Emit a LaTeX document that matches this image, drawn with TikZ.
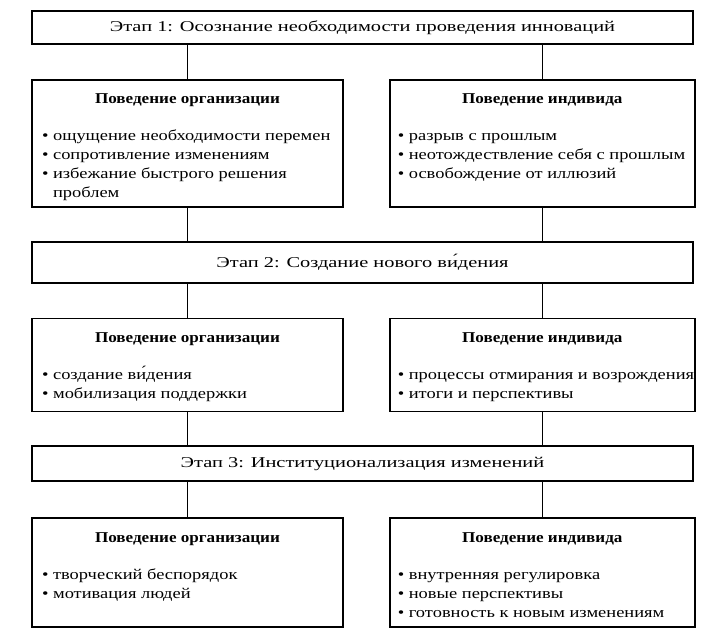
\documentclass[tikz,border=0pt]{standalone}
\usepackage{fontspec}
\setmainfont{Liberation Serif}[FakeStretch=1.23, BoldFeatures={FakeStretch=1.14}]
\newfontfamily\stageFont{Liberation Serif}[FakeStretch=1.36]
\usetikzlibrary{positioning}
\tikzstyle{stageBox} = [rectangle, draw, line width=1.8pt, minimum width=661pt, text centered, inner sep=0pt, font=\stageFont\fontsize{15pt}{19pt}\selectfont]
\tikzstyle{behBox} = [rectangle, draw, line width=1.8pt, inner xsep=10pt, inner ysep=0pt]
\tikzstyle{link} = [line width=1.5pt]
\newcommand{\boxText}[3]{\parbox[c][#1][t]{#2}{\parskip=0pt #3}}
\newcommand{\boxHead}[1]{{\centering\rule{0pt}{24pt}\textbf{#1}\par}\vspace{18pt}}
\newcommand{\pnt}[1]{\par\noindent\hbox{\textbullet\ #1}}
\newcommand{\pntNext}[1]{\par\noindent\hbox{\phantom{\textbullet\ }#1}}

\begin{document}
\begin{tikzpicture}[x=1pt, y=-1pt, font=\fontsize{15pt}{19pt}\selectfont]
	\useasboundingbox (0,0) rectangle (706,638);
	% stage 1
	\node[stageBox, minimum height=33pt] (s1) at (362.5,27.5) {Этап 1: Осознание необходимости проведения инноваций};
	\node[behBox, below=34pt of s1.south west, anchor=north west] (o1) {\boxText{127pt}{291pt}{\boxHead{Поведение организации}
		\pnt{ощущение необходимости перемен}
		\pnt{сопротивление изменениям}
		\pnt{избежание быстрого решения}
		\pntNext{проблем}}};
	\node[behBox, right=45pt of o1.north east, anchor=north west, inner xsep=8pt] (i1) {\boxText{127pt}{289pt}{\boxHead{Поведение индивида}
		\pnt{разрыв с прошлым}
		\pnt{неотождествление себя с прошлым}
		\pnt{освобождение от иллюзий}}};
	% stage 2
	\node[stageBox, minimum height=41pt, below=33pt of o1.south west, anchor=north west] (s2) {Этап 2: Создание нового ви́дения};
	\node[behBox, below=34pt of s2.south west, anchor=north west] (o2) {\boxText{93pt}{291pt}{\boxHead{Поведение организации}
		\pnt{создание ви́дения}
		\pnt{мобилизация поддержки}}};
	\node[behBox, right=45pt of o2.north east, anchor=north west, inner xsep=8pt] (i2) {\boxText{93pt}{289pt}{\boxHead{Поведение индивида}
		\pnt{процессы отмирания и возрождения}
		\pnt{итоги и перспективы}}};
	% stage 3
	\node[stageBox, minimum height=35pt, below=33pt of o2.south west, anchor=north west] (s3) {Этап 3: Институционализация изменений};
	\node[behBox, below=35pt of s3.south west, anchor=north west] (o3) {\boxText{109pt}{291pt}{\boxHead{Поведение организации}
		\pnt{творческий беспорядок}
		\pnt{мотивация людей}}};
	\node[behBox, right=45pt of o3.north east, anchor=north west, inner xsep=8pt] (i3) {\boxText{109pt}{289pt}{\boxHead{Поведение индивида}
		\pnt{внутренняя регулировка}
		\pnt{новые перспективы}
		\pnt{готовность к новым изменениям}}};

	\foreach \a/\b in {o1.north/s1.south, i1.north/s1.south, o1.south/s2.north, i1.south/s2.north,
		o2.north/s2.south, i2.north/s2.south, o2.south/s3.north, i2.south/s3.north,
		o3.north/s3.south, i3.north/s3.south}
		\draw[link] (\a) -- (\a |- \b);
\end{tikzpicture}
\end{document}
